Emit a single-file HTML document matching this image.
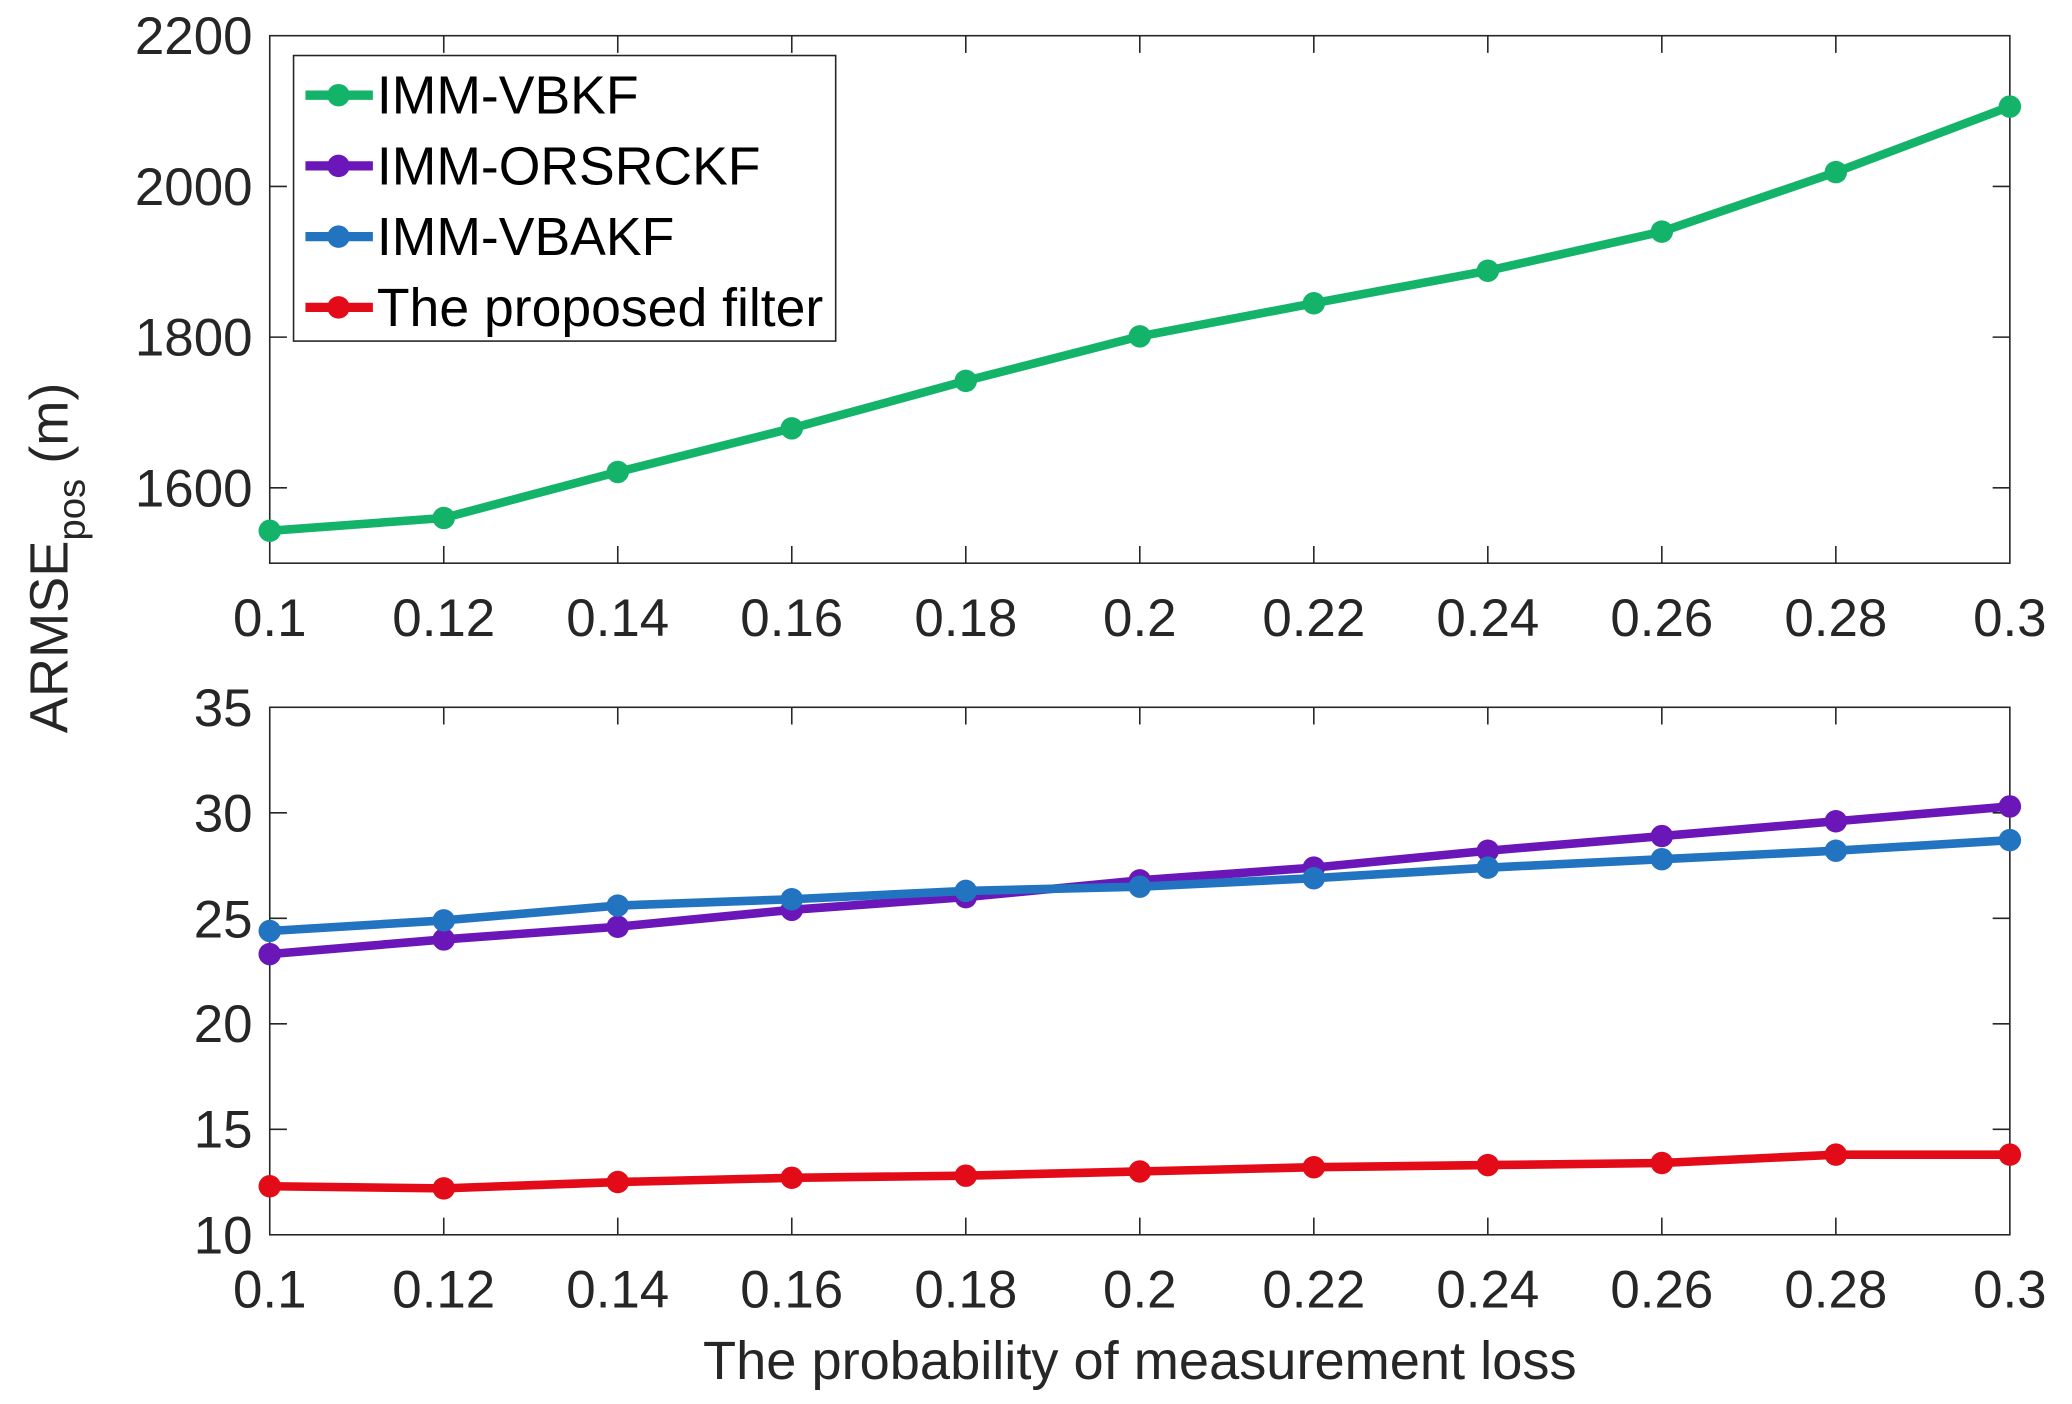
<!DOCTYPE html>
<html><head><meta charset="utf-8"><style>
html,body{margin:0;padding:0;background:#fff;}
svg{display:block;}
text{font-family:"Liberation Sans",sans-serif;}
</style></head><body>
<svg width="2072" height="1404" viewBox="0 0 1567 1062" preserveAspectRatio="none" xmlns="http://www.w3.org/2000/svg">
<defs>
<marker id="mg" markerUnits="userSpaceOnUse" markerWidth="20" markerHeight="20" refX="10" refY="10"><circle cx="10" cy="10" r="8.5" fill="#13B46A"/></marker>
<marker id="mp" markerUnits="userSpaceOnUse" markerWidth="20" markerHeight="20" refX="10" refY="10"><circle cx="10" cy="10" r="8.5" fill="#6A16B8"/></marker>
<marker id="mb" markerUnits="userSpaceOnUse" markerWidth="20" markerHeight="20" refX="10" refY="10"><circle cx="10" cy="10" r="8.5" fill="#2274C0"/></marker>
<marker id="mr" markerUnits="userSpaceOnUse" markerWidth="20" markerHeight="20" refX="10" refY="10"><circle cx="10" cy="10" r="8.5" fill="#E30B17"/></marker>
</defs>
<rect width="1567" height="1062" fill="#fff"/>
<g stroke="#262626" stroke-width="1.2" fill="none">
<rect x="204" y="27" width="1316" height="399"/>
<rect x="204" y="535" width="1316" height="399"/>
<path d="M335.6 426v-13M467.2 426v-13M598.8 426v-13M730.4 426v-13M862 426v-13M993.6 426v-13M1125.2 426v-13M1256.8 426v-13M1388.4 426v-13
M335.6 27v13M467.2 27v13M598.8 27v13M730.4 27v13M862 27v13M993.6 27v13M1125.2 27v13M1256.8 27v13M1388.4 27v13
M335.6 934v-13M467.2 934v-13M598.8 934v-13M730.4 934v-13M862 934v-13M993.6 934v-13M1125.2 934v-13M1256.8 934v-13M1388.4 934v-13
M335.6 535v13M467.2 535v13M598.8 535v13M730.4 535v13M862 535v13M993.6 535v13M1125.2 535v13M1256.8 535v13M1388.4 535v13
M204 369h13M204 255h13M204 141h13M1520 369h-13M1520 255h-13M1520 141h-13
M204 854.2h13M204 774.4h13M204 694.6h13M204 614.8h13M1520 854.2h-13M1520 774.4h-13M1520 694.6h-13M1520 614.8h-13"/>
</g>
<g font-size="40" fill="#262626" text-anchor="middle">
<text x="204" y="481">0.1</text><text x="335.6" y="481">0.12</text><text x="467.2" y="481">0.14</text><text x="598.8" y="481">0.16</text><text x="730.4" y="481">0.18</text><text x="862" y="481">0.2</text><text x="993.6" y="481">0.22</text><text x="1125.2" y="481">0.24</text><text x="1256.8" y="481">0.26</text><text x="1388.4" y="481">0.28</text><text x="1520" y="481">0.3</text>
<text x="204" y="989">0.1</text><text x="335.6" y="989">0.12</text><text x="467.2" y="989">0.14</text><text x="598.8" y="989">0.16</text><text x="730.4" y="989">0.18</text><text x="862" y="989">0.2</text><text x="993.6" y="989">0.22</text><text x="1125.2" y="989">0.24</text><text x="1256.8" y="989">0.26</text><text x="1388.4" y="989">0.28</text><text x="1520" y="989">0.3</text>
<text x="862" y="1043" font-size="41">The probability of measurement loss</text>
</g>
<g font-size="40" fill="#262626" text-anchor="end">
<text x="191" y="383">1600</text><text x="191" y="269">1800</text><text x="191" y="155">2000</text><text x="191" y="41">2200</text>
<text x="191" y="948">10</text><text x="191" y="868">15</text><text x="191" y="788">20</text><text x="191" y="709">25</text><text x="191" y="629">30</text><text x="191" y="549">35</text>
</g>
<text transform="translate(51,422) rotate(-90)" font-size="41" fill="#262626" text-anchor="middle">ARMSE<tspan font-size="29" dy="13">pos</tspan><tspan dy="-13"> (m)</tspan></text>
<g fill="none" stroke-width="6.5" stroke-linejoin="round">
<polyline stroke="#13B46A" marker-start="url(#mg)" marker-mid="url(#mg)" marker-end="url(#mg)" points="204,401.5 335.6,391.8 467.2,357 598.8,324 730.4,288.1 862,254.4 993.6,229.4 1125.2,204.8 1256.8,175.2 1388.4,130.2 1520,80.6"/>
<polyline stroke="#6A16B8" marker-start="url(#mp)" marker-mid="url(#mp)" marker-end="url(#mp)" points="204,721.7 335.6,710.6 467.2,701 598.8,688.2 730.4,678.6 862,665.9 993.6,656.3 1125.2,643.5 1256.8,632.4 1388.4,621.2 1520,610"/>
<polyline stroke="#2274C0" marker-start="url(#mb)" marker-mid="url(#mb)" marker-end="url(#mb)" points="204,704.2 335.6,696.2 467.2,685 598.8,680.2 730.4,673.9 862,670.7 993.6,664.3 1125.2,656.3 1256.8,649.9 1388.4,643.5 1520,635.5"/>
<polyline stroke="#E30B17" marker-start="url(#mr)" marker-mid="url(#mr)" marker-end="url(#mr)" points="204,897.3 335.6,898.9 467.2,894.1 598.8,890.9 730.4,889.3 862,886.1 993.6,882.9 1125.2,881.3 1256.8,879.7 1388.4,873.4 1520,873.4"/>
</g>
<rect x="222" y="42" width="410" height="216" fill="#fff" stroke="#262626" stroke-width="1.2"/>
<g stroke-width="7">
<line x1="231" y1="72" x2="282" y2="72" stroke="#13B46A"/>
<line x1="231" y1="125.5" x2="282" y2="125.5" stroke="#6A16B8"/>
<line x1="231" y1="179" x2="282" y2="179" stroke="#2274C0"/>
<line x1="231" y1="232.5" x2="282" y2="232.5" stroke="#E30B17"/>
</g>
<circle cx="256" cy="72" r="8.5" fill="#13B46A"/>
<circle cx="256" cy="125.5" r="8.5" fill="#6A16B8"/>
<circle cx="256" cy="179" r="8.5" fill="#2274C0"/>
<circle cx="256" cy="232.5" r="8.5" fill="#E30B17"/>
<g font-size="40.5" fill="#000">
<text x="285" y="86">IMM-VBKF</text>
<text x="285" y="139.5">IMM-ORSRCKF</text>
<text x="285" y="193">IMM-VBAKF</text>
<text x="285" y="246.5">The proposed filter</text>
</g>
</svg>
</body></html>
